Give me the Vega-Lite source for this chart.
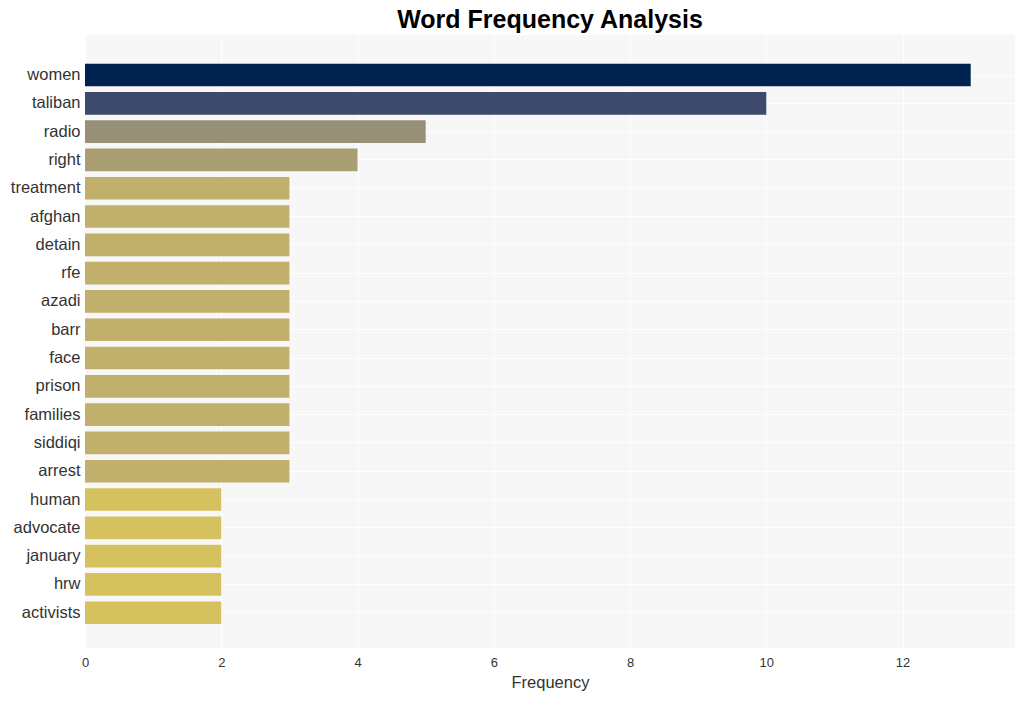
{
  "$schema": "https://vega.github.io/schema/vega-lite/v6.json",
  "width": 930,
  "height": 613,
  "autosize": {"type": "none"},
  "padding": {"left": 85, "top": 35, "right": 10, "bottom": 53},
  "background": "white",
  "title": {
    "text": "Word Frequency Analysis",
    "font": "Liberation Sans",
    "fontSize": 25,
    "fontWeight": "bold",
    "color": "#000000",
    "anchor": "middle",
    "offset": 2
  },
  "data": {
    "values": [
      {"word": "women", "count": 13},
      {"word": "taliban", "count": 10},
      {"word": "radio", "count": 5},
      {"word": "right", "count": 4},
      {"word": "treatment", "count": 3},
      {"word": "afghan", "count": 3},
      {"word": "detain", "count": 3},
      {"word": "rfe", "count": 3},
      {"word": "azadi", "count": 3},
      {"word": "barr", "count": 3},
      {"word": "face", "count": 3},
      {"word": "prison", "count": 3},
      {"word": "families", "count": 3},
      {"word": "siddiqi", "count": 3},
      {"word": "arrest", "count": 3},
      {"word": "human", "count": 2},
      {"word": "advocate", "count": 2},
      {"word": "january", "count": 2},
      {"word": "hrw", "count": 2},
      {"word": "activists", "count": 2}
    ]
  },
  "config": {
    "view": {"fill": "#f7f7f7", "stroke": null},
    "font": "Liberation Sans"
  },
  "mark": {"type": "bar"},
  "encoding": {
    "y": {
      "field": "word",
      "type": "nominal",
      "sort": null,
      "scale": {"paddingInner": 0.2, "paddingOuter": 0.93, "align": 0.545},
      "axis": {
        "title": null,
        "domain": false,
        "ticks": false,
        "labelFontSize": 16.5,
        "labelColor": "#333333",
        "labelPadding": 5,
        "grid": true,
        "gridColor": "#ffffff",
        "gridWidth": 1,
        "bandPosition": 0.5
      }
    },
    "x": {
      "field": "count",
      "type": "quantitative",
      "scale": {"domain": [0, 13.65], "nice": false},
      "axis": {
        "title": "Frequency",
        "titleFontSize": 16.5,
        "titleFontWeight": "normal",
        "titleColor": "#333333",
        "titlePadding": 5,
        "values": [0, 2, 4, 6, 8, 10, 12],
        "domain": false,
        "ticks": false,
        "labelFlush": false,
        "labelFontSize": 13,
        "labelColor": "#333333",
        "labelPadding": 8,
        "grid": true,
        "gridColor": "#ffffff",
        "gridWidth": 1
      }
    },
    "color": {
      "field": "count",
      "type": "ordinal",
      "scale": {
        "domain": [13, 10, 5, 4, 3, 2],
        "range": ["#00224e", "#3d4a6b", "#989076", "#aa9e73", "#c0b06b", "#d5c25f"]
      },
      "legend": null
    }
  }
}
